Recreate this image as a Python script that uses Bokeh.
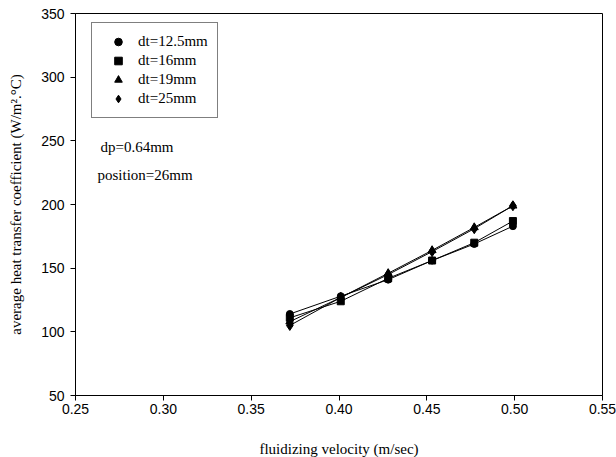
from bokeh.plotting import figure
from bokeh.models import Legend, LegendItem, Label, Range1d, FixedTicker
from bokeh.embed import file_html
from bokeh.resources import INLINE

velocity = [0.372, 0.401, 0.428, 0.453, 0.477, 0.499]
h_dt125 = [114, 128, 141, 156, 169, 183]
h_dt16 = [111, 124, 142, 156, 170, 187]
h_dt19 = [108, 127, 146, 164, 182, 199]
h_dt25 = [105, 127, 145, 163, 181, 199]
series_labels = ["dt=12.5mm", "dt=16mm", "dt=19mm", "dt=25mm"]
x_ticks = [0.25, 0.30, 0.35, 0.40, 0.45, 0.50, 0.55]
y_ticks = [50, 100, 150, 200, 250, 300, 350]

p = figure(width=616, height=457, output_backend="svg", toolbar_location=None,
           x_range=Range1d(0.25, 0.55), y_range=Range1d(50, 350),
           min_border_left=75, min_border_right=14, min_border_top=13,
           min_border_bottom=62)
p.frame_width = 527
p.frame_height = 382
p.background_fill_color = "white"
p.border_fill_color = "white"
p.outline_line_color = "black"
p.outline_line_width = 1
p.xgrid.visible = False
p.ygrid.visible = False

for ax in (p.xaxis[0], p.yaxis[0]):
    ax.major_tick_in = 0
    ax.major_tick_out = 5
    ax.minor_tick_line_color = None
    ax.axis_line_color = "black"
    ax.major_tick_line_color = "black"
    ax.major_label_text_font = "Liberation Sans"
    ax.major_label_text_font_size = "14px"
    ax.major_label_text_color = "black"
    ax.axis_label_text_font = "Liberation Serif"
    ax.axis_label_text_font_size = "15px"
    ax.axis_label_text_font_style = "normal"
    ax.axis_label_text_color = "black"

p.xaxis.ticker = FixedTicker(ticks=x_ticks)
p.yaxis.ticker = FixedTicker(ticks=y_ticks)
p.xaxis.major_label_overrides = {t: f"{t:.2f}" for t in x_ticks}
p.xaxis.axis_label = "fluidizing velocity (m/sec)"
p.yaxis.axis_label = "average heat transfer coefficient (W/m\u00b2.\u00b0C)"
p.xaxis.major_label_standoff = 3
p.yaxis.major_label_standoff = 6
p.xaxis.axis_label_standoff = 24
p.yaxis.axis_label_standoff = 14

markers = ["circle", "square", "triangle", "diamond"]
sizes = [7, 7, 8, 10]
items = []
for ys, mk, sz, lab in zip([h_dt125, h_dt16, h_dt19, h_dt25], markers, sizes, series_labels):
    p.line(velocity, ys, line_color="black", line_width=1)
    r = p.scatter(velocity, ys, marker=mk, size=sz, fill_color="black", line_color="black")
    items.append(LegendItem(label=lab, renderers=[r]))

legend = Legend(items=items, location=(16, 277), border_line_color="black",
                border_line_width=1, background_fill_color="white",
                background_fill_alpha=1.0,
                label_text_font="Liberation Serif", label_text_font_size="15px",
                label_text_color="black",
                label_height=19, glyph_height=19, glyph_width=34, spacing=0,
                padding=9, margin=0, label_standoff=3)
p.add_layout(legend, "center")

p.add_layout(Label(x=0.2642, y=244.8, text="dp=0.64mm", text_font="Liberation Serif",
                   text_font_size="15px", text_baseline="middle", text_color="black"))
p.add_layout(Label(x=0.2625, y=222.8, text="position=26mm", text_font="Liberation Serif",
                   text_font_size="15px", text_baseline="middle", text_color="black"))

open("out.html", "w").write(file_html(p, INLINE))
